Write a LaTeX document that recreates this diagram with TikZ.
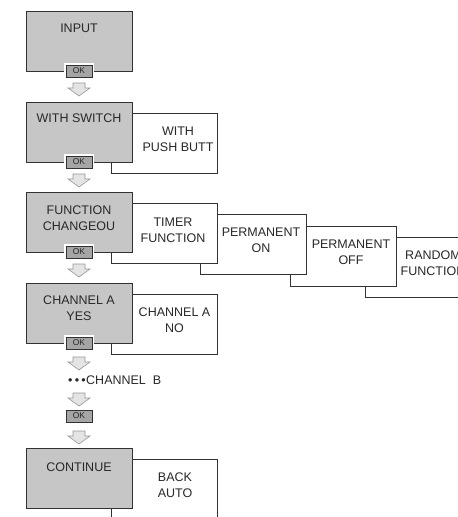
\documentclass[tikz,border=0pt]{standalone}
\usepackage{fontspec}
\setmainfont{Liberation Sans}
\definecolor{boxgray}{RGB}{198,198,198}
\definecolor{okgray}{RGB}{165,165,165}
\definecolor{linegray}{RGB}{50,50,50}
\definecolor{textcol}{RGB}{40,40,40}
\definecolor{arrowgray}{RGB}{150,150,150}
\definecolor{arrowfill}{RGB}{228,228,228}
\begin{document}
\begin{tikzpicture}[x=1pt,y=-1pt,
  boxbase/.style={draw=linegray,line width=0.8pt,minimum width=106pt,minimum height=60pt,anchor=north west,inner sep=0pt,outer sep=0pt},
  graybox/.style={boxbase,fill=boxgray},
  whitebox/.style={boxbase,fill=white},
  lbl/.style={font=\fontsize{12.5}{16}\selectfont,text=textcol,align=center,inner sep=0pt},
  okbtn/.style={fill=okgray,draw=linegray,line width=0.6pt,minimum width=26pt,minimum height=12pt,inner sep=0pt,
    font=\fontsize{8.5}{9}\selectfont,text=textcol,preaction={draw=white,line width=3.5pt}},
  darrow/.pic={\draw[arrowgray,fill=arrowfill,line width=0.6pt,line join=miter]
    (-6,0) -- (6,0) -- (6,5) -- (11,5) -- (0,13) -- (-11,5) -- (-6,5) -- cycle;}
]
\path[use as bounding box] (0,0) rectangle (458,517);
\clip (0,0) rectangle (458,517);

% white boxes (back to front)
\node[whitebox] (random) at (365,237) {};
\node[whitebox] (poff) at (290,226) {};
\node[whitebox] (pon) at (200,214) {};
\node[whitebox] (timer) at (111,203) {};
\node[whitebox] (push) at (111,113) {};
\node[whitebox] (chno) at (111,294) {};
\node[whitebox] (back) at (111,459) {};

% gray boxes
\node[graybox] (input) at (26,11) {};
\node[graybox] (switch) at (26,102) {};
\node[graybox] (func) at (26,192) {};
\node[graybox] (chan) at (26,283) {};
\node[graybox] (cont) at (26,448) {};

% labels
\node[lbl] (tinput) at (79,28) {INPUT};
\node[lbl] (tswitch) at (79,118) {WITH SWITCH};
\node[lbl] (tfunc) at (79,218.5) {FUNCTION\\CHANGEOU};
\node[lbl] (tchan) at (79,308.5) {CHANNEL A\\YES};
\node[lbl] (tcont) at (79,467) {CONTINUE};
\node[lbl] (tpush) at (178,139.5) {WITH\\PUSH BUTT};
\node[lbl] (ttimer) at (173,230) {TIMER\\FUNCTION};
\node[lbl] (tpon) at (261,240.5) {PERMANENT\\ON};
\node[lbl] (tpoff) at (351,252.5) {PERMANENT\\OFF};
\node[lbl] (trandom) at (433,263.5) {RANDOM\\FUNCTION};
\node[lbl] (tchno) at (174.5,320) {CHANNEL A\\NO};
\node[lbl] (tback) at (175,485) {BACK\\AUTO};
\node[lbl,anchor=west] (tchb) at (68,380) {•\hspace{2.2pt}•\hspace{2.2pt}•\hspace{0.5pt}CHANNEL\ \ B};

% OK buttons
\node[okbtn] (ok1) at (79,71) {OK};
\node[okbtn] (ok2) at (79,162) {OK};
\node[okbtn] (ok3) at (79,252) {OK};
\node[okbtn] (ok4) at (79,343) {OK};
\node[okbtn] (ok5) at (79,416) {OK};

% arrows
\pic at (79,83) {darrow};
\pic at (79,174) {darrow};
\pic at (79,264) {darrow};
\pic at (79,357) {darrow};
\pic at (79,393) {darrow};
\pic at (79,431) {darrow};
\end{tikzpicture}
\end{document}
